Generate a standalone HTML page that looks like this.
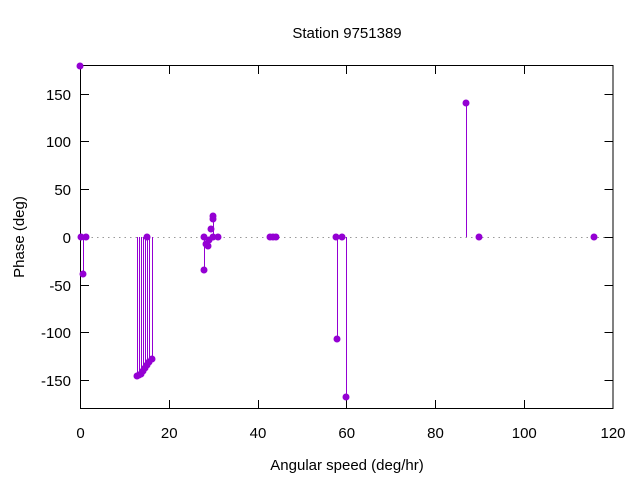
<!DOCTYPE html>
<html><head><style>body{margin:0;background:#fff}</style></head><body>
<svg width="640" height="480" xmlns="http://www.w3.org/2000/svg" font-family="Liberation Sans, DejaVu Sans, sans-serif" font-size="15">
<rect width="640" height="480" fill="#fff"/>
<line x1="80.5" y1="237.5" x2="613" y2="237.5" stroke="#999" stroke-dasharray="1.5,4" stroke-width="1"/>
<g stroke="#000" stroke-width="1" shape-rendering="crispEdges">
<rect x="80.5" y="65.5" width="532.5" height="343" fill="none"/>
<line x1="80.5" y1="94.5" x2="89" y2="94.5"/><line x1="613" y1="94.5" x2="604.5" y2="94.5"/>
<line x1="80.5" y1="141.5" x2="89" y2="141.5"/><line x1="613" y1="141.5" x2="604.5" y2="141.5"/>
<line x1="80.5" y1="189.5" x2="89" y2="189.5"/><line x1="613" y1="189.5" x2="604.5" y2="189.5"/>
<line x1="80.5" y1="237.5" x2="89" y2="237.5"/><line x1="613" y1="237.5" x2="604.5" y2="237.5"/>
<line x1="80.5" y1="285.5" x2="89" y2="285.5"/><line x1="613" y1="285.5" x2="604.5" y2="285.5"/>
<line x1="80.5" y1="332.5" x2="89" y2="332.5"/><line x1="613" y1="332.5" x2="604.5" y2="332.5"/>
<line x1="80.5" y1="380.5" x2="89" y2="380.5"/><line x1="613" y1="380.5" x2="604.5" y2="380.5"/>
<line x1="169.5" y1="408.5" x2="169.5" y2="400"/><line x1="169.5" y1="65.5" x2="169.5" y2="74"/>
<line x1="258.5" y1="408.5" x2="258.5" y2="400"/><line x1="258.5" y1="65.5" x2="258.5" y2="74"/>
<line x1="346.5" y1="408.5" x2="346.5" y2="400"/><line x1="346.5" y1="65.5" x2="346.5" y2="74"/>
<line x1="435.5" y1="408.5" x2="435.5" y2="400"/><line x1="435.5" y1="65.5" x2="435.5" y2="74"/>
<line x1="524.5" y1="408.5" x2="524.5" y2="400"/><line x1="524.5" y1="65.5" x2="524.5" y2="74"/>
</g>
<g text-anchor="end" fill="#000">
<text x="71" y="100">150</text><text x="71" y="147">100</text><text x="71" y="195">50</text>
<text x="71" y="243">0</text><text x="71" y="291">-50</text><text x="71" y="338">-100</text><text x="71" y="386">-150</text>
</g>
<g text-anchor="middle" fill="#000">
<text x="80.5" y="438">0</text><text x="169.25" y="438">20</text><text x="258" y="438">40</text>
<text x="346.75" y="438">60</text><text x="435.5" y="438">80</text><text x="524.25" y="438">100</text><text x="613" y="438">120</text>
<text x="347" y="470">Angular speed (deg/hr)</text>
<text x="347" y="38">Station 9751389</text>
<text transform="translate(24,237) rotate(-90)">Phase (deg)</text>
</g>
<g stroke="#9400d3" stroke-width="1" shape-rendering="crispEdges">
<line x1="83.5" y1="237" x2="83.5" y2="274"/>
<line x1="137.5" y1="237" x2="137.5" y2="376"/><line x1="139.5" y1="237" x2="139.5" y2="375"/>
<line x1="141.5" y1="237" x2="141.5" y2="374"/><line x1="143.5" y1="237" x2="143.5" y2="371"/>
<line x1="145.5" y1="237" x2="145.5" y2="368"/><line x1="147.5" y1="237" x2="147.5" y2="365"/>
<line x1="149.5" y1="237" x2="149.5" y2="362"/><line x1="152.5" y1="237" x2="152.5" y2="359"/>
<line x1="204.5" y1="237" x2="204.5" y2="270"/>
<line x1="213.5" y1="237" x2="213.5" y2="214"/>
<line x1="337.5" y1="237" x2="337.5" y2="339"/>
<line x1="346.5" y1="237" x2="346.5" y2="397"/>
<line x1="466.5" y1="237" x2="466.5" y2="103"/>
</g>
<g fill="#9400d3">
<circle cx="80" cy="66" r="3.5"/><circle cx="81" cy="237" r="3.5"/><circle cx="83" cy="274" r="3.5"/><circle cx="86" cy="237" r="3.5"/>
<circle cx="137" cy="376" r="3.5"/><circle cx="139" cy="375" r="3.5"/><circle cx="141" cy="374" r="3.5"/><circle cx="143" cy="371" r="3.5"/>
<circle cx="145" cy="368" r="3.5"/><circle cx="147" cy="365" r="3.5"/><circle cx="149" cy="362" r="3.5"/><circle cx="152" cy="359" r="3.5"/>
<circle cx="147" cy="237" r="3.5"/>
<circle cx="204" cy="270" r="3.5"/><circle cx="204" cy="237" r="3.5"/><circle cx="206" cy="244" r="3.5"/><circle cx="208" cy="246" r="3.5"/>
<circle cx="209" cy="240" r="3.5"/><circle cx="211" cy="229" r="3.5"/><circle cx="213" cy="219" r="3.5"/><circle cx="213" cy="216" r="3.5"/>
<circle cx="213" cy="237" r="3.5"/><circle cx="218" cy="237" r="3.5"/>
<circle cx="270" cy="237" r="3.5"/><circle cx="273" cy="237" r="3.5"/><circle cx="276" cy="237" r="3.5"/>
<circle cx="336" cy="237" r="3.5"/><circle cx="337" cy="339" r="3.5"/><circle cx="342" cy="237" r="3.5"/><circle cx="346" cy="397" r="3.5"/>
<circle cx="466" cy="103" r="3.5"/><circle cx="479" cy="237" r="3.5"/><circle cx="594" cy="237" r="3.5"/>
</g>
</svg>
</body></html>
